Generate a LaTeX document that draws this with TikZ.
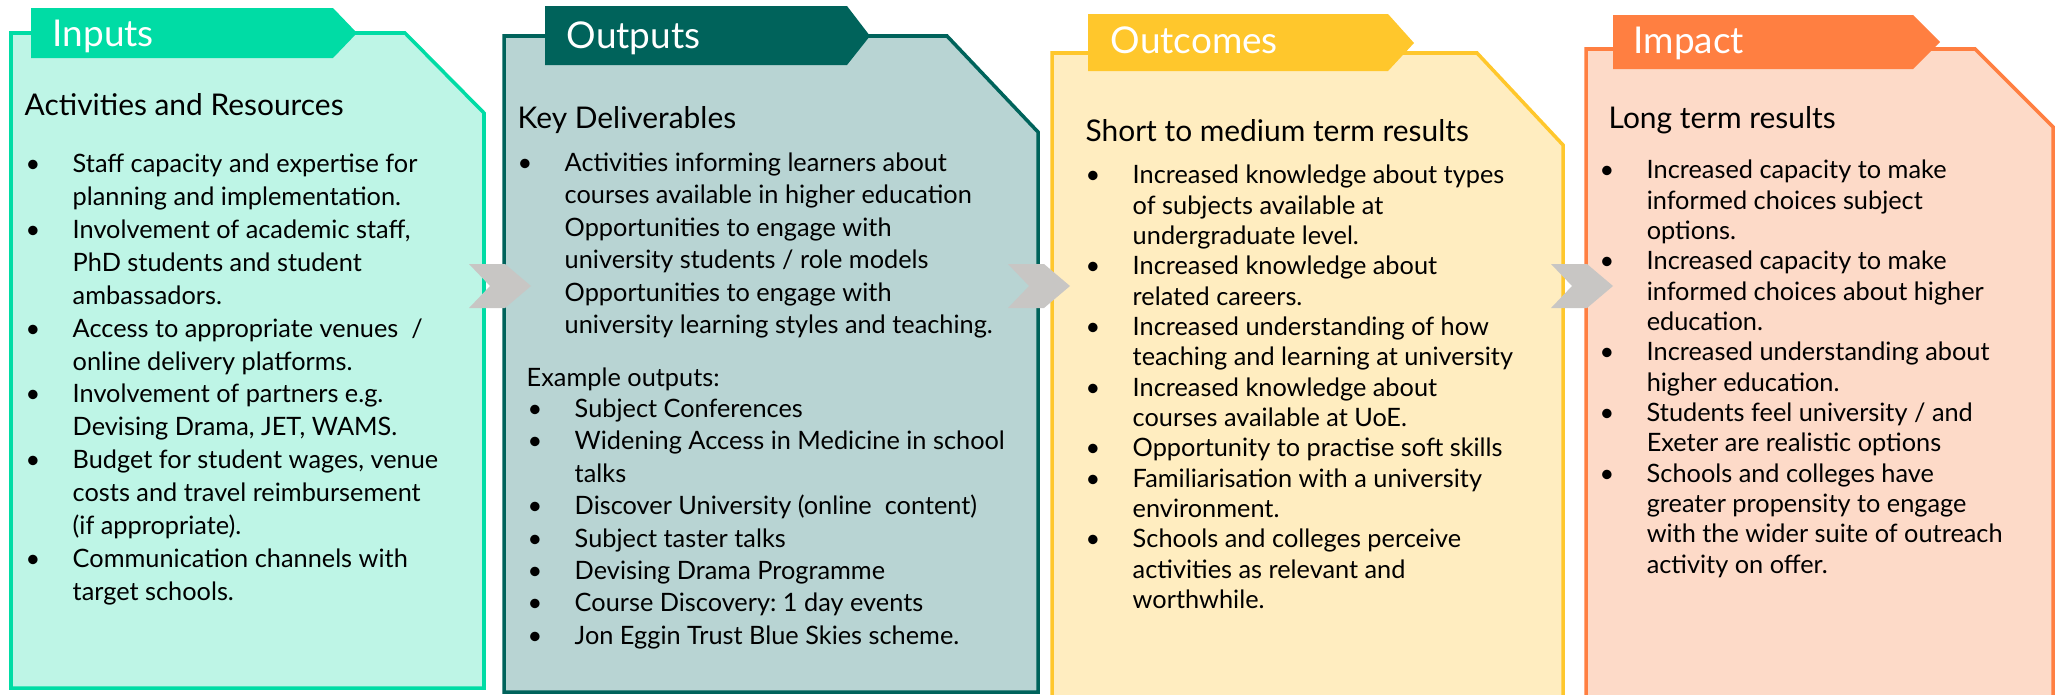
\documentclass[tikz,border=0pt]{standalone}
\usepackage{fontspec}
\setmainfont{Lato}
\usepackage{tikz}
\usepackage{xcolor}
\frenchspacing

\definecolor{inCol}{RGB}{0,220,165}
\definecolor{inFill}{RGB}{190,245,230}
\definecolor{outCol}{RGB}{0,99,91}
\definecolor{outFill}{RGB}{184,212,211}
\definecolor{ocCol}{RGB}{255,199,44}
\definecolor{ocFill}{RGB}{255,237,192}
\definecolor{imCol}{RGB}{255,127,65}
\definecolor{imFill}{RGB}{253,218,200}
\definecolor{chevCol}{RGB}{200,198,196}

\newcommand{\bul}{\makebox[0.47cm][l]{\textbullet}}
\newcommand{\ind}{\hspace*{0.47cm}}

\begin{document}
\begin{tikzpicture}[x=0.01cm,y=-0.01cm]
			\tikzstyle{panel}=[line width=1pt, line join=miter]
			\tikzstyle{tabtext}=[anchor=base west, inner sep=0pt, text=white, font=\fontsize{10.5}{12}\selectfont]
			\tikzstyle{headtext}=[anchor=base west, inner sep=0pt, font=\fontsize{8.5}{10}\selectfont]
			\tikzstyle{itemtext}=[anchor=north west, inner sep=0pt, align=left, font=\fontsize{7.2}{9.35}\selectfont]
			\tikzstyle{itemtight}=[anchor=north west, inner sep=0pt, align=left, font=\fontsize{7.2}{8.62}\selectfont]
			
			\useasboundingbox (0,0) rectangle (2058,694);
			
			\draw[panel, draw=inCol, fill=inFill] (11,33) -- (405,33) -- (484,113) -- (484,688) -- (11,688) -- cycle;
			\fill[inCol] (31,8) -- (333,8) -- (357,33) -- (333,58) -- (31,58) -- cycle;
			\node[tabtext] (inT) at (52,47) {Inputs};
			\node[headtext] (inH) at (24,115) {Activities and Resources};
			\node[itemtext] (inL) at (25,149) {\strut\bul Staff capacity and expertise for\\
				\ind planning and implementation.\\
				\bul Involvement of academic staff,\\
				\ind PhD students and student\\
				\ind ambassadors.\\
				\bul Access to appropriate venues\ \ /\\
				\ind online delivery platforms.\\
				\bul Involvement of partners e.g.\\
				\ind Devising Drama, JET, WAMS.\\
				\bul Budget for student wages, venue\\
				\ind costs and travel reimbursement\\
				\ind (if appropriate).\\
				\bul Communication channels with\\
				\ind target schools.};
			
			\draw[panel, draw=outCol, fill=outFill] (504,36) -- (947,36) -- (1038,132) -- (1038,692) -- (504,692) -- cycle;
			\fill[outCol] (545,6) -- (847,6) -- (870,36) -- (847,65) -- (545,65) -- cycle;
			\node[tabtext] (outT) at (566,48) {Outputs};
			\node[headtext] (outH) at (517,128) {Key Deliverables};
			\node[itemtext, font=\fontsize{7.2}{9.22}\selectfont] (outL) at (517,148) {\strut\bul Activities informing learners about\\
				\ind courses available in higher education\\
				\ind Opportunities to engage with\\
				\ind university students / role models\\
				\ind Opportunities to engage with\\
				\ind university learning styles and teaching.};
			\node[anchor=base west, inner sep=0pt, font=\fontsize{7.2}{9.22}\selectfont] (outE) at (526,386) {Example outputs:};
			\node[itemtext, font=\fontsize{7.2}{9.22}\selectfont] (outX) at (527,394) {\strut\bul Subject Conferences\\
				\bul Widening Access in Medicine in school\\
				\ind talks\\
				\bul Discover University (online\ \ content)\\
				\bul Subject taster talks\\
				\bul Devising Drama Programme\\
				\bul Course Discovery: 1 day events\\
				\bul Jon Eggin Trust Blue Skies scheme.};
			
			\draw[panel, draw=ocCol, fill=ocFill] (1052,53) -- (1477,53) -- (1563,145) -- (1563,700) -- (1052,700) -- cycle;
			\fill[ocCol] (1088,14) -- (1388,14) -- (1414,43) -- (1388,71) -- (1088,71) -- cycle;
			\node[tabtext] (ocT) at (1110,54) {Outcomes};
			\node[headtext] (ocH) at (1085,141) {Short to medium term results};
			\node[itemtight] (ocL) at (1085,162) {\strut\bul Increased knowledge about types\\
				\ind of subjects available at\\
				\ind undergraduate level.\\
				\bul Increased knowledge about\\
				\ind related careers.\\
				\bul Increased understanding of how\\
				\ind teaching and learning at university\\
				\bul Increased knowledge about\\
				\ind courses available at UoE.\\
				\bul Opportunity to practise soft skills\\
				\bul Familiarisation with a university\\
				\ind environment.\\
				\bul Schools and colleges perceive\\
				\ind activities as relevant and\\
				\ind worthwhile.};
			
			\draw[panel, draw=imCol, fill=imFill] (1586,49) -- (1975,49) -- (2053,127) -- (2053,700) -- (1586,700) -- cycle;
			\fill[imCol] (1613,15) -- (1913,15) -- (1940,42) -- (1913,69) -- (1613,69) -- cycle;
			\node[tabtext] (imT) at (1633,53) {Impact};
			\node[headtext] (imH) at (1608,128) {Long term results};
			\node[itemtight] (imL) at (1599,157) {\strut\bul Increased capacity to make\\
				\ind informed choices subject\\
				\ind options.\\
				\bul Increased capacity to make\\
				\ind informed choices about higher\\
				\ind education.\\
				\bul Increased understanding about\\
				\ind higher education.\\
				\bul Students feel university / and\\
				\ind Exeter are realistic options\\
				\bul Schools and colleges have\\
				\ind greater propensity to engage\\
				\ind with the wider suite of outreach\\
				\ind activity on offer.};
			
			\foreach \cx in {469,1008,1551}
				\fill[chevCol] (\cx,264) -- ++(36,0) -- ++(26,22) -- ++(-26,22) -- ++(-36,0) -- ++(21,-22) -- cycle;
		\end{tikzpicture}
\end{document}
